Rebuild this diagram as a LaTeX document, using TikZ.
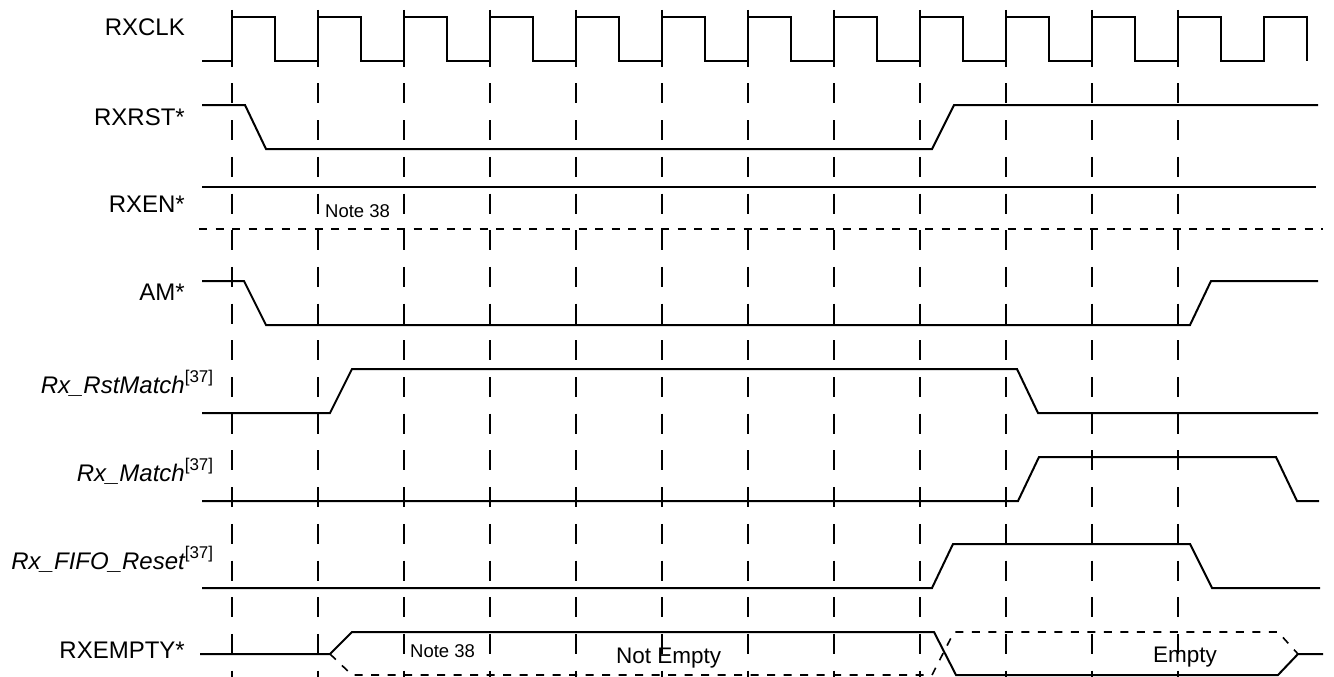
\documentclass[tikz,border=0pt]{standalone}
\usepackage{fontspec}
\setmainfont{Liberation Sans}

\newcommand{\sigsup}[1]{\rlap{\raisebox{11pt}{\upshape\fontsize{17}{20}\selectfont[#1]}}}

\begin{document}
\begin{tikzpicture}[x=1pt,y=-1pt,line join=miter,
  sig/.style={line width=2pt},
  vgrid/.style={line width=2.2pt,dash pattern=on 20pt off 16.7pt},
  hidden/.style={line width=1.6pt,dash pattern=on 8pt off 8.5pt},
  lbl/.style={anchor=base east,inner sep=0pt,font=\fontsize{24}{28}\selectfont},
  note/.style={anchor=base west,inner sep=0pt,font=\fontsize{18.5}{22}\selectfont},
  state/.style={anchor=base west,inner sep=0pt,font=\fontsize{22.5}{26}\selectfont}]

 \useasboundingbox (0,0) rectangle (1334,677);

 % signal names
 \node[lbl] (clk)  at (185,36)  {RXCLK};
 \node[lbl] (rst)  at (185,125) {RXRST*};
 \node[lbl] (en)   at (185,212) {RXEN*};
 \node[lbl] (am)   at (185,300) {AM*};
 \node[lbl] (rstm) at (185,393) {\itshape Rx\_RstMatch\sigsup{37}};
 \node[lbl] (mat)  at (185,481) {\itshape Rx\_Match\sigsup{37}};
 \node[lbl] (fifo) at (185,569) {\itshape Rx\_FIFO\_Reset\sigsup{37}};
 \node[lbl] (emp)  at (185,658) {RXEMPTY*};

 % clock edges
 \foreach \k in {0,...,11}
   \draw[vgrid] ({232+86*\k},10) -- ({232+86*\k},677);

 \draw[sig] (202,61) foreach \k in {0,...,12}
   { -- ({232+86*\k},61) -- ({232+86*\k},17) -- ({275+86*\k},17) -- ({275+86*\k},61) };

 \draw[sig] (202,105) -- (245,105) -- (266,149) -- (932,149) -- (954,105) -- (1318,105);
 \draw[sig] (202,187) -- (1316,187);
 \draw[hidden] (199,229) -- (1323,229);
 \draw[sig] (202,281) -- (244,281) -- (266,325) -- (1190,325) -- (1211,281) -- (1318,281);
 \draw[sig] (202,413) -- (330,413) -- (352,369) -- (1017,369) -- (1038,413) -- (1318,413);
 \draw[sig] (202,501) -- (1018,501) -- (1039,457) -- (1276,457) -- (1297,501) -- (1319,501);
 \draw[sig] (202,588) -- (932,588) -- (953,544) -- (1190,544) -- (1212,588) -- (1320,588);

 \draw[sig] (200,654) -- (330,654) -- (352,632) -- (934,632) -- (956,675)
            -- (1278,675) -- (1298,654) -- (1323,654);
 \draw[hidden] (330,654) -- (352,675) -- (932,675) -- (954,632) -- (1278,632) -- (1298,654);

 \node[note] (n1) at (325,217) {Note 38};
 \node[note] (n2) at (410,657) {Note 38};
 \node[state] (full)  at (616,663) {Not Empty};
 \node[state] (empty) at (1153,662) {Empty};

\end{tikzpicture}
\end{document}
